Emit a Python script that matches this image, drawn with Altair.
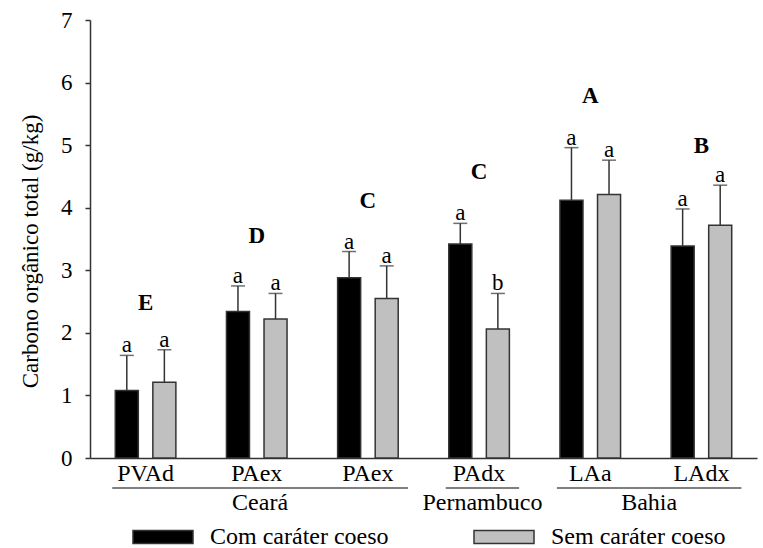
import altair as alt
import pandas as pd

# ---- data ----
keys = ["PVAd", "PAex1", "PAex2", "PAdx", "LAa", "LAdx"]          # unique ids (labels drop the digit)
soils = ["PVAd", "PAex", "PAex", "PAdx", "LAa", "LAdx"]
states = ["Ceará", "Ceará", "Ceará", "Pernambuco", "Bahia", "Bahia"]
series = ["Com caráter coeso", "Sem caráter coeso"]

com_mean = [1.08, 2.34, 2.88, 3.42, 4.12, 3.39]
com_err = [0.56, 0.41, 0.42, 0.33, 0.84, 0.59]
sem_mean = [1.21, 2.22, 2.55, 2.06, 4.21, 3.72]
sem_err = [0.52, 0.41, 0.52, 0.57, 0.55, 0.64]
com_letter = ["a", "a", "a", "a", "a", "a"]
sem_letter = ["a", "a", "a", "b", "a", "a"]
group_letter = ["E", "D", "C", "C", "A", "B"]
group_letter_y = [2.37, 3.44, 4.00, 4.46, 5.68, 4.88]

FONT = "'Liberation Serif', 'Times New Roman', Times, serif"
DARK = "#333333"

rows = []
for i, k in enumerate(keys):
    rows.append(dict(key=k, serie=series[0], mean=com_mean[i],
                     top=com_mean[i] + com_err[i], letter=com_letter[i]))
    rows.append(dict(key=k, serie=series[1], mean=sem_mean[i],
                     top=sem_mean[i] + sem_err[i], letter=sem_letter[i]))
df = pd.DataFrame(rows)

gdf = pd.DataFrame(dict(key=keys, letter=group_letter, ly=group_letter_y))

# state groups (index span of their soils)
reg_rows = []
for st in ["Ceará", "Pernambuco", "Bahia"]:
    idx = [i for i, s in enumerate(states) if s == st]
    x0 = idx[0] + 0.2
    x1 = idx[-1] + 0.86
    reg_rows.append(dict(state=st, x0=x0, x1=x1, xm=(x0 + x1) / 2))
rdf = pd.DataFrame(reg_rows)

x_axis = alt.Axis(title=None, labelExpr="replace(datum.label, regexp('[0-9]'), '')",
                  ticks=False, tickSize=0, labelAngle=0, labelFont=FONT, labelFontSize=24,
                  labelColor="black", labelPadding=3, domainColor=DARK, domainWidth=1.5)
X = alt.X("key:N", sort=keys, scale=alt.Scale(domain=keys, paddingInner=0, paddingOuter=0),
          axis=x_axis)
XO = alt.XOffset("serie:N", sort=series,
                 scale=alt.Scale(domain=series, paddingInner=0.387, paddingOuter=0.673))

y_axis = alt.Axis(title="Carbono orgânico total (g/kg)", values=[0, 1, 2, 3, 4, 5, 6, 7],
                  grid=False, domainColor=DARK, domainWidth=1.5, tickColor=DARK, tickWidth=1.5,
                  tickSize=5, labelFont=FONT, labelFontSize=23, labelColor="black",
                  labelPadding=13, titleFont=FONT, titleFontSize=23, titleFontWeight="normal",
                  titleColor="black", titleX=-53, titleY=231, titleBaseline="alphabetic")
yscale = alt.Scale(domain=[0, 7], nice=False, zero=True)


def Y(field):
    return alt.Y(f"{field}:Q", scale=yscale, axis=y_axis)


legend = alt.Legend(title=None, orient="none", legendX=42, legendY=486, direction="horizontal",
                    symbolType="M-1,-0.2167H1V0.2167H-1Z", symbolSize=3600,
                    symbolStrokeColor=DARK, symbolStrokeWidth=1.5, symbolOpacity=1,
                    labelFont=FONT, labelFontSize=24, labelColor="black", labelOffset=16,
                    labelLimit=400, columnPadding=82)

bars = alt.Chart(df).mark_bar(stroke=DARK, strokeWidth=1.5, opacity=1).encode(
    x=X, xOffset=XO, y=Y("mean"),
    color=alt.Color("serie:N", sort=series,
                    scale=alt.Scale(domain=series, range=["#000000", "#c0c0c0"]),
                    legend=legend),
)

err = alt.Chart(df).mark_rule(color=DARK, strokeWidth=1.5).encode(
    x=X, xOffset=XO, y=Y("mean"), y2="top:Q")

caps = alt.Chart(df).mark_tick(color=DARK, thickness=1.5, size=14).encode(
    x=X, xOffset=XO, y=Y("top"))

letters = alt.Chart(df).mark_text(font=FONT, fontSize=23, baseline="alphabetic", dy=-3,
                                  color="black").encode(
    x=X, xOffset=XO, y=Y("top"), text="letter:N")

glet = alt.Chart(gdf).mark_text(font=FONT, fontSize=23, fontWeight="bold",
                                baseline="alphabetic", color="black").encode(
    x=X, y=Y("ly"), text="letter:N")

xq = alt.Scale(domain=[0, 6], nice=False, zero=False)
reg_lines = alt.Chart(rdf).mark_rule(color="#555555", strokeWidth=1.5).encode(
    x=alt.X("x0:Q", scale=xq, axis=None), x2="x1:Q", y=alt.value(468))
reg_text = alt.Chart(rdf).mark_text(font=FONT, fontSize=24, baseline="alphabetic",
                                    color="black").encode(
    x=alt.X("xm:Q", scale=xq, axis=None), y=alt.value(490), text="state:N")

main = alt.layer(bars, err, caps, letters, glet)
annot = alt.layer(reg_lines, reg_text)

chart = alt.layer(main, annot).resolve_scale(
    x="independent"
).properties(
    width=667, height=438,
    padding={"left": 90, "top": 20, "right": 6, "bottom": 90},
    autosize=alt.AutoSizeParams(type="none"),
).configure(font=FONT).configure_view(stroke=None)

chart.save("out.html", embed_options={"renderer": "svg", "actions": False})
